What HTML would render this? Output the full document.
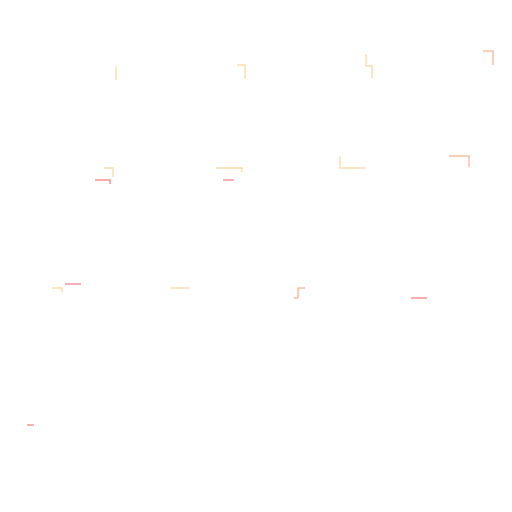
<!DOCTYPE html>
<html><head><meta charset="utf-8"><style>html,body{margin:0;padding:0;background:#fff;width:512px;height:512px;overflow:hidden}</style></head>
<body>
<svg id="chart" width="512" height="512" viewBox="0 0 512 512"></svg>
<script>
const panelIds = ["r1c1","r1c2","r1c3","r1c4","r2c1a","r2c1b","r2c2a","r2c2b","r2c3","r2c4","r3c1a","r3c1b","r3c2","r3c3","r3c4","r4c1"];
const xs = [[116,116],[237,245,245],[366,366,372,372],[483,493,493],[104,113,113],[95,110,110],[216,242,242],[223,234],[340,340,366],[449,469,469],[52,62,62],[65,81],[171,190],[294,298,298,305],[411,427],[27,34]];
const ys = [[67,80],[65,65,79],[54,66,66,78],[51,51,65],[168,168,177],[180,180,184],[168,168,172],[180,180],[156,168,168],[156,156,167],[288,288,292],[284,284],[288,288],[298,298,288,288],[298,298],[425,425]];
const kinds = ["o","o","o","or","o","r","o","r","o","or","o","r","o","or","r","r"];
const colorMap = {o:"#fbd79a", or:"#f6b08a", r:"#f47a7a"};
const svg = document.getElementById('chart');
for (let i = 0; i < xs.length; i++) {
  const pts = xs[i].map((x, j) => x + "," + ys[i][j]).join(" ");
  const pl = document.createElementNS("http://www.w3.org/2000/svg", "polyline");
  pl.setAttribute("points", pts);
  pl.setAttribute("fill", "none");
  pl.setAttribute("stroke", colorMap[kinds[i]]);
  pl.setAttribute("stroke-width", "1.2");
  
  
  svg.appendChild(pl);
}
</script>
</body></html>
